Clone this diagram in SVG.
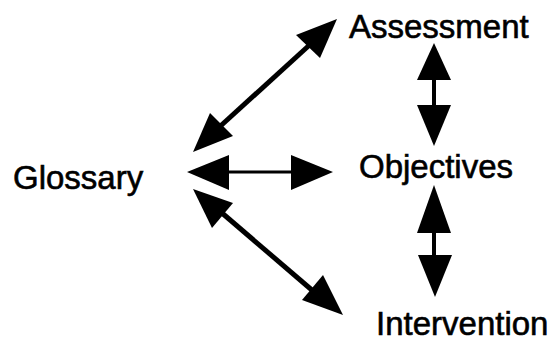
<svg xmlns="http://www.w3.org/2000/svg" width="553" height="343" viewBox="0 0 553 343">
<style>
text{font-family:"Liberation Sans",Arial,sans-serif;font-size:33px;fill:#000;stroke:#000;stroke-width:0.6}
.ln{stroke:#000;fill:none}
.hd{fill:#000}
</style>
<rect width="553" height="343" fill="#fff"/>
<g id="glossary"><text x="13" y="189">Glossary</text></g>
<g id="assessment"><text x="349" y="38">Assessment</text></g>
<g id="objectives"><text x="359" y="178">Objectives</text></g>
<g id="intervention"><text x="376" y="335">Intervention</text></g>
<g id="connectors">
<line class="ln" x1="215" y1="131" x2="315" y2="40" stroke-width="5"/>
<polygon class="hd" points="193,152 210,113 233,136"/>
<polygon class="hd" points="337,19 296,35 320,58"/>
<line class="ln" x1="225" y1="172" x2="295" y2="172" stroke-width="3"/>
<polygon class="hd" points="187,172 229,155 229,190"/>
<polygon class="hd" points="333,172 291,155 291,190"/>
<line class="ln" x1="215" y1="207" x2="320" y2="297" stroke-width="5"/>
<polygon class="hd" points="193,189 233,203 212,228"/>
<polygon class="hd" points="343,315 302,300 323,275"/>
<line class="ln" x1="434" y1="75" x2="434" y2="112" stroke-width="4"/>
<polygon class="hd" points="434,43 417,80 451,80"/>
<polygon class="hd" points="434,146 417,105 451,105"/>
<line class="ln" x1="434" y1="228" x2="434" y2="260" stroke-width="4"/>
<polygon class="hd" points="434,185 417,233 451,233"/>
<polygon class="hd" points="435,297 418,255 452,255"/>
</g>
</svg>
